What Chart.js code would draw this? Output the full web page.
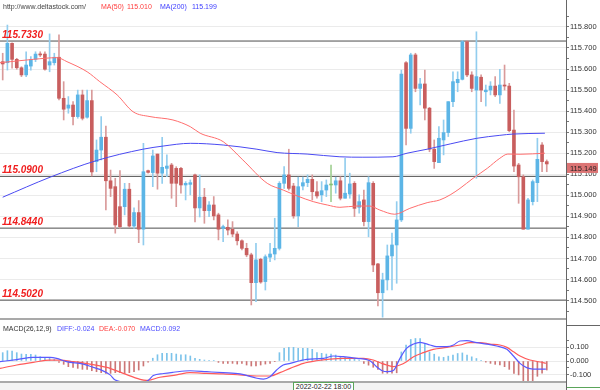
<!DOCTYPE html>
<html>
<head>
<meta charset="utf-8">
<title>USD/JPY candles with MACD</title>
<script src="https://cdn.jsdelivr.net/npm/chart.js@4.4.1/dist/chart.umd.min.js"></script>
<style>
  body { margin: 0; background: #fff; }
  #wrap { position: relative; width: 600px; height: 390px; overflow: hidden;
          font-family: "Liberation Sans", Arial, sans-serif; }
  canvas { position: absolute; left: 0; }
  #priceChart { top: 0; }
  #macdChart { top: 320px; }
  .txt { position: absolute; font-size: 7px; line-height: 8px; white-space: nowrap; }
  .bar { position: absolute; }
</style>
</head>
<body>
<div id="wrap">
  <canvas id="priceChart" width="600" height="318"></canvas>
  <canvas id="macdChart" width="600" height="61"></canvas>

  <!-- panel separators -->
  <div class="bar" style="left:0;top:318px;width:566px;height:2px;background:#a9a9a9"></div>
  <div class="bar" style="left:566px;top:318px;width:1px;height:2px;background:#666"></div>
  <div class="bar" style="left:566px;top:325px;width:34px;height:1px;background:#666"></div>
  <div class="bar" style="left:0;top:381px;width:566px;height:2px;background:#a9a9a9"></div>
  <div class="bar" style="left:0;top:383px;width:566px;height:7px;background:#f3f3f3"></div>
  <div class="bar" style="left:566px;top:381px;width:1px;height:9px;background:#666"></div>
  <div class="bar" style="left:567px;top:387px;width:33px;height:3px;border-top:1px solid #5aa55a"></div>

  <!-- header of price panel -->
  <div class="txt" style="left:3px;top:3px;color:#444">http://www.deltastock.com/</div>
  <div class="txt" style="left:101px;top:3px;color:#ff3c3c">MA(50)</div>
  <div class="txt" style="left:127px;top:3px;color:#ff3c3c">115.010</div>
  <div class="txt" style="left:160px;top:3px;color:#3c3cff">MA(200)</div>
  <div class="txt" style="left:192px;top:3px;color:#3c3cff">115.199</div>

  <!-- header of MACD panel -->
  <div class="txt" style="left:3px;top:325px;color:#333">MACD(26,12,9)</div>
  <div class="txt" style="left:57px;top:325px;color:#4b4bff">DIFF:-0.024</div>
  <div class="txt" style="left:99px;top:325px;color:#ff4040">DEA:-0.070</div>
  <div class="txt" style="left:140px;top:325px;color:#4b4bff">MACD:0.092</div>

  <!-- time label -->
  <div class="txt" style="left:293px;top:382px;width:59px;height:8px;border:1px solid #5aa55a;border-bottom:none;background:#fff;color:#222;text-align:center">2022-02-22 18:00</div>
</div>

<script>
// ===================================================
// Data (oldest candle first)
// ===================================================
const opens = [
  115.635, 115.630, 115.722, 115.646, 115.606, 115.572, 115.614, 115.646, 115.671, 115.671,
  115.619, 115.630, 115.656, 115.461, 115.414, 115.429, 115.374, 115.477, 115.371, 115.450,
  115.160, 115.215, 115.276, 115.069, 115.041, 114.946, 114.946, 115.029, 114.854, 114.918,
  114.839, 115.117, 115.108, 115.196, 115.105, 115.128, 115.144, 115.128, 115.128, 115.049,
  115.052, 115.097, 114.940, 114.991, 114.927, 114.954, 114.907, 114.843, 114.848, 114.839,
  114.816, 114.784, 114.748, 114.717, 114.585, 114.696, 114.590, 114.706, 114.721, 114.748,
  115.057, 115.097, 115.044, 114.902, 115.044, 115.060, 115.076, 115.017, 115.002, 115.025,
  115.049, 115.049, 115.069, 114.986, 115.006, 115.057, 114.943, 114.978, 114.875, 115.057,
  114.674, 114.537, 114.598, 114.712, 114.764, 114.883, 115.630, 115.318, 115.667, 115.508,
  115.529, 115.414, 115.219, 115.155, 115.263, 115.298, 115.445, 115.535, 115.551, 115.730,
  115.572, 115.500, 115.561, 115.492, 115.500, 115.519, 115.477, 115.524, 115.519, 115.310,
  115.144, 115.088, 114.839, 114.970, 115.060, 115.239, 115.160
];
const highs = [
  115.675, 115.809, 115.725, 115.651, 115.611, 115.682, 115.659, 115.682, 115.682, 115.682,
  115.767, 115.675, 115.762, 115.540, 115.469, 115.445, 115.500, 115.500, 115.500, 115.500,
  115.263, 115.374, 115.329, 115.120, 115.081, 115.117, 115.057, 115.057, 114.940, 114.975,
  115.247, 115.120, 115.215, 115.196, 115.276, 115.192, 115.152, 115.136, 115.133, 115.065,
  115.073, 115.101, 115.097, 115.033, 114.970, 114.994, 114.915, 114.859, 114.883, 114.875,
  114.827, 114.788, 114.772, 114.725, 114.772, 114.701, 114.717, 114.772, 114.891, 115.065,
  115.136, 115.219, 115.057, 115.086, 115.086, 115.097, 115.097, 115.065, 115.065, 115.073,
  115.144, 115.086, 115.088, 115.176, 115.105, 115.065, 115.002, 115.025, 115.088, 115.065,
  114.677, 114.630, 114.764, 114.820, 114.970, 115.595, 115.635, 115.675, 115.675, 115.556,
  115.595, 115.418, 115.263, 115.326, 115.358, 115.445, 115.587, 115.587, 115.735, 115.735,
  115.587, 115.777, 115.572, 115.524, 115.540, 115.564, 115.598, 115.619, 115.532, 115.405,
  115.152, 115.097, 114.986, 115.073, 115.271, 115.250, 115.168
];
const lows = [
  115.548, 115.595, 115.604, 115.599, 115.564, 115.564, 115.595, 115.635, 115.659, 115.595,
  115.587, 115.619, 115.453, 115.358, 115.390, 115.334, 115.366, 115.358, 115.366, 115.092,
  115.112, 115.168, 114.930, 114.994, 114.820, 114.843, 114.907, 114.848, 114.843, 114.775,
  114.764, 115.105, 115.041, 115.029, 115.057, 115.088, 114.986, 114.946, 115.010, 114.978,
  115.002, 114.873, 114.897, 114.867, 114.899, 114.883, 114.788, 114.780, 114.812, 114.803,
  114.764, 114.740, 114.708, 114.479, 114.495, 114.582, 114.550, 114.685, 114.693, 114.740,
  115.033, 115.025, 114.891, 114.851, 115.025, 115.041, 114.978, 114.986, 114.970, 114.994,
  114.970, 115.010, 114.978, 114.986, 114.986, 114.899, 114.915, 114.854, 114.803, 114.637,
  114.474, 114.421, 114.550, 114.550, 114.582, 114.875, 115.239, 115.295, 115.492, 115.429,
  115.358, 115.207, 115.128, 115.155, 115.192, 115.279, 115.421, 115.492, 115.548, 115.564,
  115.492, 115.081, 115.445, 115.424, 115.477, 115.469, 115.437, 115.500, 115.302, 115.112,
  114.962, 114.839, 114.839, 114.954, 114.970, 115.112, 115.112
];
const closes = [
  115.624, 115.722, 115.646, 115.606, 115.572, 115.619, 115.646, 115.671, 115.667, 115.599,
  115.635, 115.656, 115.461, 115.409, 115.429, 115.374, 115.477, 115.366, 115.450, 115.111,
  115.215, 115.276, 115.069, 115.033, 114.859, 114.851, 115.029, 114.854, 114.918, 114.839,
  115.112, 115.109, 115.187, 115.105, 115.133, 115.139, 115.057, 115.057, 115.049, 115.057,
  115.060, 114.940, 114.991, 114.927, 114.954, 114.902, 114.839, 114.851, 114.835, 114.816,
  114.784, 114.748, 114.717, 114.585, 114.693, 114.588, 114.708, 114.721, 114.748, 115.057,
  115.097, 115.033, 114.902, 115.041, 115.060, 115.076, 115.017, 114.997, 115.022, 115.049,
  115.049, 115.069, 114.986, 115.010, 115.054, 114.938, 114.970, 114.875, 115.060, 114.669,
  114.537, 114.598, 114.712, 114.764, 114.883, 115.576, 115.318, 115.667, 115.508, 115.529,
  115.414, 115.219, 115.160, 115.271, 115.298, 115.445, 115.540, 115.551, 115.730, 115.572,
  115.508, 115.564, 115.500, 115.500, 115.519, 115.477, 115.524, 115.519, 115.307, 115.139,
  115.088, 114.839, 114.978, 115.065, 115.171, 115.160, 115.149
];

// --- moving averages (position = candle index) ---
const ma50Pos = [-0.6, 1.6, 6.5, 11.6, 13.7, 18, 20.7, 24.4, 27.8, 31.4, 36.3, 40, 42.1, 47, 51.2, 56.4,
  59.8, 62.8, 66.2, 69.2, 71.9, 75.5, 78.3, 80.4, 83.6, 86.8, 90.5, 93.2, 95.4, 97.5, 100.3, 103.3,
  106, 107.7, 110.3, 115.6];
const ma50Val = [115.630, 115.635, 115.646, 115.654, 115.635, 115.587, 115.540, 115.477, 115.397,
  115.374, 115.358, 115.326, 115.295, 115.255, 115.168, 115.057, 115.025, 114.997, 114.970, 114.954,
  114.943, 114.949, 114.949, 114.930, 114.910, 114.938, 114.965, 114.978, 115.002, 115.033, 115.081,
  115.128, 115.176, 115.196, 115.195, 115.200];
const ma200Pos = [0, 10.1, 20, 29.9, 34.2, 40, 47, 54.2, 58.5, 64.9, 71.9, 76.8, 83.2, 86.2, 90.5,
  95.4, 101.1, 106, 108.8, 115.6];
const ma200Val = [114.991, 115.086, 115.165, 115.219, 115.234, 115.247, 115.239, 115.219, 115.203,
  115.196, 115.183, 115.181, 115.183, 115.200, 115.219, 115.244, 115.271, 115.285, 115.291, 115.295];

// --- MACD panel ---
const macdHist = [
  0.060, 0.074, 0.072, 0.060, 0.050, 0.048, 0.048, 0.043, 0.031, 0.026,
  0.019, 0.012, -0.010, -0.024, -0.041, -0.046, -0.053, -0.060, -0.060, -0.070,
  -0.077, -0.084, -0.089, -0.089, -0.084, -0.084, -0.089, -0.084, -0.077, -0.065,
  -0.036, -0.008, 0.020, 0.045, 0.055, 0.055, 0.055, 0.050, 0.045, 0.045,
  0.036, 0.019, 0.012, 0.007, 0.003, 0.003, -0.010, -0.017, -0.017, -0.017,
  -0.022, -0.017, -0.029, -0.036, -0.036, -0.029, -0.022, -0.017, -0.005, 0.060,
  0.091, 0.098, 0.098, 0.091, 0.091, 0.091, 0.084, 0.060, 0.055, 0.050,
  0.050, 0.043, 0.031, 0.026, 0.026, 0.019, 0.007, -0.017, -0.030, -0.045,
  -0.060, -0.088, -0.088, -0.088, -0.085, 0.065, 0.114, 0.155, 0.162, 0.162,
  0.126, 0.065, 0.049, 0.030, 0.026, 0.035, 0.042, 0.054, 0.058, 0.042,
  0.030, 0.018, 0.002, -0.008, -0.017, -0.024, -0.029, -0.041, -0.060, -0.089,
  -0.100, -0.150, -0.150, -0.150, -0.110, -0.088, -0.065
];
const diffPos = [-0.6, 3, 6.5, 10.1, 11.5, 13.6, 17.2, 19.3, 20.7, 22.9, 24, 27, 29, 31, 32.1, 34.3,
  36.4, 39.9, 43.5, 47, 50.6, 54.2, 55.6, 57, 58.4, 59.8, 61.3, 63.4, 64.8, 68.4, 70.5, 72.6, 75.5,
  78.3, 79.7, 80.8, 82, 83.3, 84.7, 86.1, 87.6, 89, 91.1, 92.5, 94.7, 96.1, 97.5, 98.9, 101.1, 103.2,
  105.3, 107.5, 108.9, 110.3, 111.7, 113.1, 115.8];
const diffVal = [-0.005, 0.010, 0.026, 0.026, 0.019, -0.005, -0.022, -0.046, -0.060, -0.100, -0.137,
  -0.155, -0.160, -0.140, -0.105, -0.090, -0.081, -0.070, -0.077, -0.084, -0.093, -0.124, -0.130,
  -0.113, -0.065, -0.029, -0.017, 0.002, 0.012, 0.019, 0.036, 0.031, 0.019, 0.002, -0.041, -0.068,
  -0.077, -0.068, 0.019, 0.091, 0.122, 0.134, 0.115, 0.103, 0.103, 0.115, 0.144, 0.146, 0.132, 0.122,
  0.108, 0.084, 0.036, -0.017, -0.048, -0.058, -0.058];
const deaPos = [-0.6, 3, 6.5, 10.1, 12.2, 15.1, 18.6, 22.2, 25.7, 29.3, 30.7, 33.5, 37.1, 39.9, 43.5,
  47, 50.6, 54.2, 57, 59.1, 61.3, 64.1, 66.9, 69.8, 72.6, 76.9, 79, 80.8, 81.9, 83.3, 84.7, 86.1, 87.6,
  89.7, 91.8, 94.7, 97.5, 99.6, 101.8, 103.9, 106, 107.5, 108.9, 110.3, 112.4, 114.6, 115.8];
const deaVal = [-0.053, -0.029, -0.010, 0.007, 0.007, -0.005, -0.022, -0.046, -0.089, -0.132, -0.140,
  -0.117, -0.100, -0.084, -0.089, -0.093, -0.100, -0.108, -0.108, -0.084, -0.053, -0.017, 0.002,
  0.014, 0.019, 0.019, 0.007, -0.017, -0.029, -0.041, -0.029, -0.005, 0.031, 0.060, 0.084, 0.098,
  0.115, 0.132, 0.132, 0.122, 0.115, 0.098, 0.067, 0.036, 0.007, -0.007, -0.017];

// --- levels and axis labels ---
const levelVals = [115.733, 115.090, 114.844, 114.502];
const levelLabels = ["115.7330", "115.0900", "114.8440", "114.5020"];
const priceTicks = [114.5, 114.6, 114.7, 114.8, 114.9, 115.0, 115.1, 115.2, 115.3, 115.4, 115.5, 115.6, 115.7, 115.8];
const macdTicks = [-0.1, 0, 0.1];

// ===================================================
// Shared settings
// ===================================================
const FONT = '"Liberation Sans", Arial, sans-serif';
const X_MIN = -0.576, X_MAX = 120.1;      // candle index range of the plot
const AXIS_W = 34;                         // right axis width

Chart.defaults.font.family = FONT;

function candleColor(i, up, down, flat) {
    if (closes[i] > opens[i]) return up;
    if (closes[i] < opens[i]) return down;
    return flat;
}

// labelled ticks plus unlabelled half-step marks
function withMinor(list, step) {
    const out = [list[0] - step / 2];
    list.forEach(function (v) { out.push(v, v + step / 2); });
    return out;
}

function isLabelled(list, v) {
    return list.some(function (t) { return Math.abs(t - v) < 1e-6; });
}

function rightAxis(min, max, labels, step) {
    return {
        position: "right",
        min: min,
        max: max,
        afterBuildTicks: function (s) {
            s.ticks = withMinor(labels, step)
                .filter(function (v) { return v >= min && v <= max; })
                .map(function (v) { return { value: v }; });
        },
        afterFit: function (s) {
            s.width = AXIS_W;
            s.paddingTop = 0;
            s.paddingBottom = 0;
        },
        ticks: {
            autoSkip: false,
            padding: 1,
            color: "#333",
            font: { size: 7.5, family: FONT },
            callback: function (v) { return isLabelled(labels, v) ? v.toFixed(3) : ""; },
        },
        grid: {
            color: function (ctx) {
                return ctx.tick && isLabelled(labels, ctx.tick.value) ? "#ebebeb" : "rgba(0,0,0,0)";
            },
            tickColor: "#777",
            tickLength: 3,
        },
        border: { color: "#666", width: 1 },
    };
}

const hiddenX = {
    type: "linear",
    min: X_MIN,
    max: X_MAX,
    offset: false,
    display: false,
    grid: { display: false, offset: false },
};

// ===================================================
// 1. Price panel
// ===================================================
const priceOverlay = {
    id: "priceOverlay",
    afterDraw: function (chart) {
        const ctx = chart.ctx;
        const y = chart.scales.y;
        const area = chart.chartArea;

        ctx.save();
        // level captions
        ctx.font = "italic bold 10px " + FONT;
        ctx.fillStyle = "#f01e1e";
        ctx.textBaseline = "alphabetic";
        levelVals.forEach(function (v, k) {
            ctx.fillText(levelLabels[k], 2, y.getPixelForValue(v) - 3);
        });

        // last price marker on the axis
        const last = closes[closes.length - 1];
        const py = y.getPixelForValue(last) + 4;
        ctx.fillStyle = "#dc7474";
        ctx.fillRect(area.right + 1, py - 5, AXIS_W - 3, 10);
        ctx.fillStyle = "#222";
        ctx.font = "7.5px " + FONT;
        ctx.textBaseline = "middle";
        ctx.fillText(last.toFixed(3), area.right + 4, py + 0.5);
        ctx.restore();
    },
};

const levelSets = levelVals.map(function (v) {
    return {
        type: "line",
        data: [{ x: X_MIN, y: v }, { x: X_MAX, y: v }],
        borderColor: "#4d4d4d",
        borderWidth: 1,
        pointRadius: 0,
        order: 9,
    };
});

new Chart(document.getElementById("priceChart"), {
    type: "bar",
    data: {
        datasets: levelSets.concat([
            {
                type: "bar",
                data: closes.map(function (c, i) { return { x: i, y: [lows[i], highs[i]] }; }),
                backgroundColor: closes.map(function (c, i) { return candleColor(i, "#92cdee", "#d99a9a", "#a2d094"); }),
                barThickness: 1,
                grouped: false,
                order: 6,
            },
            {
                type: "bar",
                data: closes.map(function (c, i) { return { x: i, y: [opens[i], c] }; }),
                backgroundColor: closes.map(function (c, i) { return candleColor(i, "#5cb5e6", "#c85e5e", "#86c276"); }),
                barThickness: 3,
                minBarLength: 1,
                grouped: false,
                order: 5,
            },
            {
                type: "line",
                data: ma200Pos.map(function (p, k) { return { x: p, y: ma200Val[k] }; }),
                borderColor: "#4a4af2",
                borderWidth: 1,
                pointRadius: 0,
                cubicInterpolationMode: "monotone",
                order: 2,
            },
            {
                type: "line",
                data: ma50Pos.map(function (p, k) { return { x: p, y: ma50Val[k] }; }),
                borderColor: "#ff6e6e",
                borderWidth: 1,
                pointRadius: 0,
                cubicInterpolationMode: "monotone",
                order: 1,
            },
        ]),
    },
    options: {
        responsive: false,
        animation: false,
        events: [],
        layout: { padding: 0 },
        plugins: { legend: { display: false }, tooltip: { enabled: false } },
        scales: {
            x: hiddenX,
            y: rightAxis(114.417, 115.928, priceTicks, 0.1),
        },
    },
    plugins: [priceOverlay],
});

// ===================================================
// 2. MACD panel
// ===================================================
new Chart(document.getElementById("macdChart"), {
    type: "bar",
    data: {
        datasets: [
            {
                type: "bar",
                data: macdHist.map(function (v, i) { return { x: i, y: v }; }),
                backgroundColor: macdHist.map(function (v) { return v >= 0 ? "#7cc3ea" : "#cc7676"; }),
                barThickness: 1,
                grouped: false,
                order: 5,
            },
            {
                type: "line",
                data: deaPos.map(function (p, k) { return { x: p, y: deaVal[k] }; }),
                borderColor: "#ff5a5a",
                borderWidth: 1.2,
                pointRadius: 0,
                cubicInterpolationMode: "monotone",
                order: 2,
            },
            {
                type: "line",
                data: diffPos.map(function (p, k) { return { x: p, y: diffVal[k] }; }),
                borderColor: "#5a5aff",
                borderWidth: 1.2,
                pointRadius: 0,
                cubicInterpolationMode: "monotone",
                order: 1,
            },
        ],
    },
    options: {
        responsive: false,
        animation: false,
        events: [],
        layout: { padding: 0 },
        plugins: { legend: { display: false }, tooltip: { enabled: false } },
        scales: {
            x: hiddenX,
            y: rightAxis(-0.1439, 0.295, macdTicks, 0.1),
        },
    },
});
</script>
</body>
</html>
